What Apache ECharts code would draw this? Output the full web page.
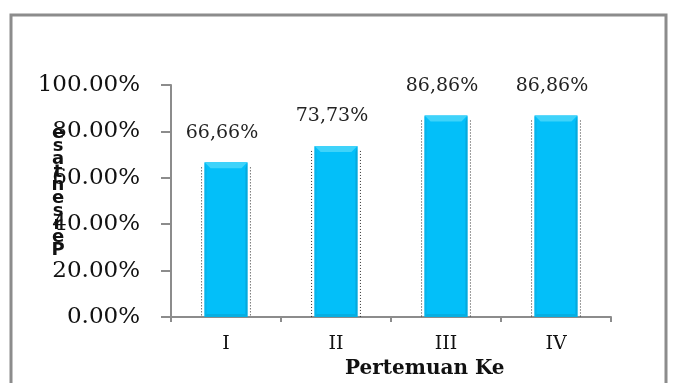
<!DOCTYPE html>
<html><head><meta charset="utf-8">
<script src="https://cdn.jsdelivr.net/npm/echarts@6/dist/echarts.min.js"></script>
<style>html,body{margin:0;padding:0;background:#fff}#c{width:674px;height:383px}</style>
</head><body><div id="c"></div>
<script>
var categories = ['I', 'II', 'III', 'IV'];
var values = [66.66, 73.73, 86.86, 86.86];
var valueLabels = ['66,66%', '73,73%', '86,86%', '86,86%'];
var yTicks = [0, 20, 40, 60, 80, 100];
var xTitle = 'Pertemuan Ke';
var yTitle = 'Persentase';

var chart = echarts.init(document.getElementById('c'), null, {renderer: 'canvas'});
var serif = 'DejaVu Serif';
var axisGray = '#8c8c8c';

function bevel(params, api) {
  var x = api.value(0), v = api.value(1);
  var top = api.coord([x, v]);
  var base = api.coord([x, 0]);
  var bw = api.size([1, 0])[0] * 0.39;
  var l = top[0] - bw / 2, r = top[0] + bw / 2;
  var t = top[1], b = base[1];
  var d = 6, s = 2;
  return {
    type: 'group',
    children: [
      {type: 'polygon', shape: {points: [[l, t], [r, t], [r - d, t + d], [l + d, t + d]]},
       style: {fill: '#3fd3fa'}},
      {type: 'polygon', shape: {points: [[l, t], [l + s, t + d], [l + s, b - 3], [l, b]]},
       style: {fill: '#08b3ea'}},
      {type: 'polygon', shape: {points: [[r, t], [r - s, t + d], [r - s, b - 3], [r, b]]},
       style: {fill: '#07a8dc'}},
      {type: 'polygon', shape: {points: [[l, b], [l + s, b - 3], [r - s, b - 3], [r, b]]},
       style: {fill: '#07aee2'}},
      {type: 'line', shape: {x1: l - 3, y1: t + 5, x2: l - 3, y2: b},
       style: {stroke: '#333', lineWidth: 1, lineDash: [1, 2]}},
      {type: 'line', shape: {x1: r + 3, y1: t + 5, x2: r + 3, y2: b},
       style: {stroke: '#333', lineWidth: 1, lineDash: [1, 2]}}
    ]
  };
}

chart.setOption({
  animation: false,
  backgroundColor: '#fff',
  grid: {left: 171, right: 63, top: 85, bottom: 66},
  xAxis: {
    type: 'category', data: categories,
    axisLine: {lineStyle: {color: axisGray, width: 2}},
    axisTick: {show: true, length: 5, lineStyle: {color: axisGray, width: 2}},
    axisLabel: {color: '#111', fontFamily: serif, fontSize: 19, margin: 18}
  },
  yAxis: {
    type: 'value', min: 0, max: 100, interval: 20,
    splitLine: {show: false},
    axisLine: {show: true, lineStyle: {color: axisGray, width: 2}},
    axisTick: {show: true, length: 10, lineStyle: {color: axisGray, width: 2}},
    axisLabel: {color: '#111', fontFamily: serif, fontSize: 23, margin: 31,
      formatter: function (v) { return yTicks.indexOf(v) >= 0 ? v.toFixed(2) + '%' : ''; }}
  },
  series: [{
    type: 'bar', data: values, barWidth: '39%',
    itemStyle: {color: '#03bff9'},
    label: {show: true, position: 'top', distance: 20, offset: [-4, 0],
      fontFamily: serif, fontSize: 19, color: '#222',
      formatter: function (p) { return valueLabels[p.dataIndex]; }},
    z: 2
  }, {
    type: 'custom', renderItem: bevel,
    data: values.map(function (v, i) { return [i, v]; }),
    z: 3, silent: true
  }],
  graphic: [
    {type: 'rect', shape: {x: 11, y: 15, width: 655, height: 380},
     style: {fill: 'none', stroke: axisGray, lineWidth: 3}},
    {type: 'text', left: 345, top: 359,
     style: {text: xTitle, font: 'bold 20px "DejaVu Serif"', fill: '#111'}},
    {type: 'text', x: 58, y: 127,
     style: {text: yTitle.split('').reverse().join('\n'), font: '600 18px "DejaVu Sans"',
       lineHeight: 13, fill: '#111', align: 'center'}}
  ]
});
</script></body></html>
